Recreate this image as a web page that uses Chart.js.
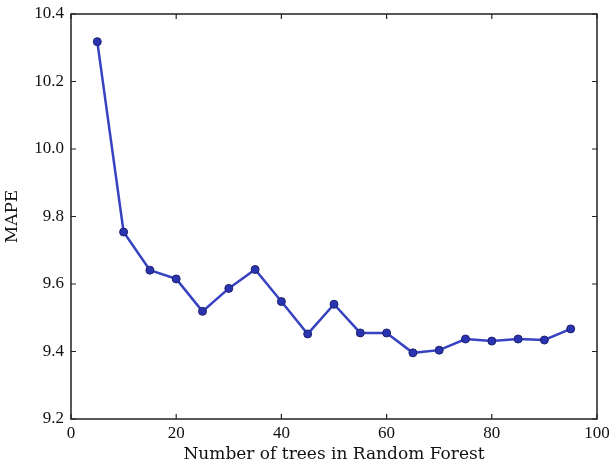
<!DOCTYPE html>
<html><head><meta charset="utf-8">
<script src="https://cdn.jsdelivr.net/npm/chart.js@4/dist/chart.umd.min.js"></script>
<style>html,body{margin:0;padding:0;background:#fff;}canvas{display:block;}</style>
</head><body>
<canvas id="c" width="609" height="466"></canvas>
<script>
const treeCounts = [5,10,15,20,25,30,35,40,45,50,55,60,65,70,75,80,85,90,95];
const mapeValues = [10.318,9.754,9.641,9.615,9.519,9.587,9.643,9.548,9.452,9.540,9.455,9.455,9.396,9.404,9.437,9.431,9.437,9.434,9.467];
const xTicks = [0,20,40,60,80,100];
const yTicks = [9.2,9.4,9.6,9.8,10.0,10.2,10.4];
const xTitle = 'Number of trees in Random Forest';
const yTitle = 'MAPE';

const TICKFONT = '"Liberation Serif", "Times New Roman", serif';
const TITLEFONT = '"DejaVu Serif", "Liberation Serif", serif';

const frame = {
  id: 'frame',
  afterDraw(chart) {
    const {ctx, chartArea: a, scales} = chart;
    ctx.save();
    ctx.strokeStyle = '#222';
    ctx.lineWidth = 1.5;
    ctx.strokeRect(a.left, a.top, a.right - a.left, a.bottom - a.top);
    ctx.lineWidth = 1.2;
    const L = 5;
    ctx.beginPath();
    xTicks.forEach(v => {
      const px = scales.x.getPixelForValue(v);
      ctx.moveTo(px, a.bottom); ctx.lineTo(px, a.bottom - L);
      ctx.moveTo(px, a.top); ctx.lineTo(px, a.top + L);
    });
    yTicks.forEach(v => {
      const py = scales.y.getPixelForValue(v);
      ctx.moveTo(a.left, py); ctx.lineTo(a.left + L, py);
      ctx.moveTo(a.right, py); ctx.lineTo(a.right - L, py);
    });
    ctx.stroke();
    ctx.restore();
  }
};

new Chart(document.getElementById('c'), {
  type: 'line',
  data: {
    datasets: [{
      data: treeCounts.map((x, i) => ({x, y: mapeValues[i]})),
      borderColor: '#3642c0',
      borderWidth: 2.5,
      pointRadius: 4,
      pointBackgroundColor: '#2a34b0',
      pointBorderColor: '#1c2270',
      pointBorderWidth: 1,
      tension: 0,
      fill: false
    }]
  },
  options: {
    responsive: false,
    animation: false,
    devicePixelRatio: 1,
    layout: {padding: {top: 14, right: 12, left: 2, bottom: 0}},
    plugins: {legend: {display: false}, tooltip: {enabled: false}},
    scales: {
      x: {
        type: 'linear', min: 0, max: 100,
        afterBuildTicks: s => { s.ticks = xTicks.map(v => ({value: v})); },
        afterFit: s => { s.height = 466 - 419; s.paddingLeft = 0; s.paddingRight = 0; },
        grid: {display: false, drawTicks: false},
        border: {display: false},
        ticks: {color: '#111', font: {family: TICKFONT, size: 17}, padding: 4, maxRotation: 0},
        title: {display: true, text: xTitle, color: '#111', font: {family: TITLEFONT, size: 17}, padding: {top: -2, bottom: 1}}
      },
      y: {
        type: 'linear', min: 9.2, max: 10.4,
        afterBuildTicks: s => { s.ticks = yTicks.map(v => ({value: v})); },
        afterFit: s => { s.width = 69; s.paddingTop = 0; s.paddingBottom = 0; },
        grid: {display: false, drawTicks: false},
        border: {display: false},
        ticks: {color: '#111', font: {family: TICKFONT, size: 17}, padding: 7, callback: v => v.toFixed(1)},
        title: {display: true, text: yTitle, color: '#111', font: {family: TITLEFONT, size: 17}, padding: {top: 0, bottom: 4}}
      }
    }
  },
  plugins: [frame]
});
</script>
</body></html>
